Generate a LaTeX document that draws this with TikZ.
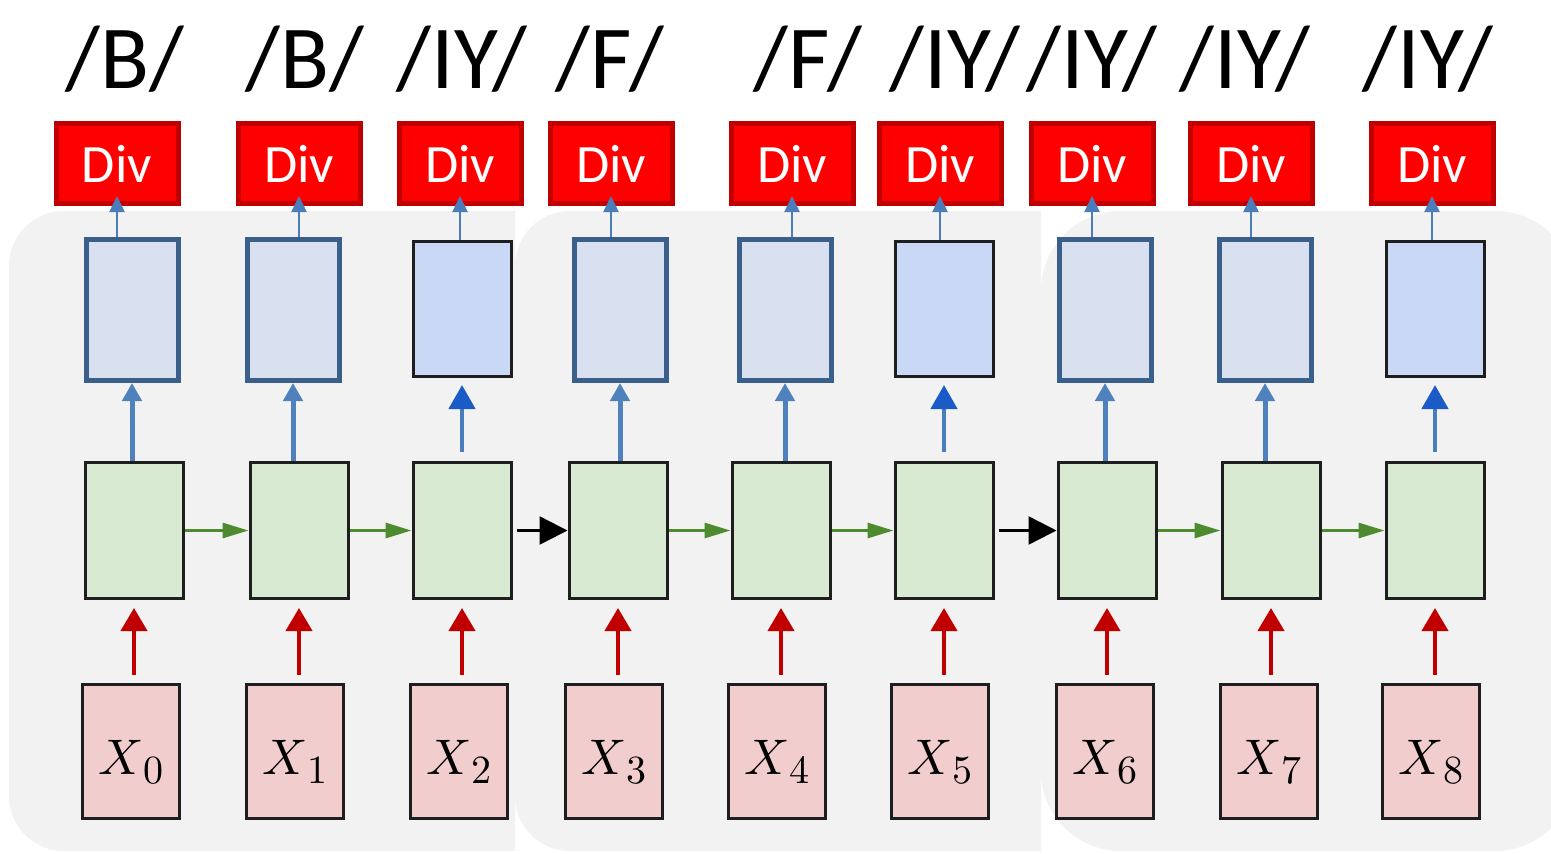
\documentclass[tikz,border=0pt]{standalone}
\usepackage{fontspec}
\usepackage{unicode-math}
\setmainfont{Carlito}
\usetikzlibrary{arrows.meta}
\definecolor{panelgray}{HTML}{F2F2F2}
\definecolor{divred}{HTML}{FF0000}
\definecolor{divborder}{HTML}{C00000}
\definecolor{bthickborder}{HTML}{3A5F8B}
\definecolor{bthickfill}{HTML}{D9E1F0}
\definecolor{bthinfill}{HTML}{C9D9F5}
\definecolor{boxborder}{HTML}{1E1E1E}
\definecolor{greenfill}{HTML}{D9EAD3}
\definecolor{pinkfill}{HTML}{F2CDCD}
\definecolor{arrowblue}{HTML}{4A7EBB}
\definecolor{arrowbluethick}{HTML}{4F81BD}
\definecolor{headblue}{HTML}{1A5BC8}
\definecolor{arrowred}{HTML}{C00000}
\definecolor{arrowgreen}{HTML}{4E8B2E}
\newcommand{\xsub}[1]{\raisebox{-23pt}[0pt][0pt]{$X$\kern1pt\raisebox{-9pt}{\fontsize{40}{40}\selectfont$#1$}}}
\begin{document}
\begin{tikzpicture}[x=1pt,y=-1pt,
  divbox/.style={draw=divborder,fill=divred,line width=5pt,minimum width=122pt,minimum height=80pt,inner sep=0pt,text=white,font=\fontsize{54}{60}\selectfont},
  phon/.style={inner sep=0pt,font=\fontsize{90}{100}\selectfont},
  bthick/.style={draw=bthickborder,fill=bthickfill,line width=5pt,minimum width=92pt,minimum height=141pt,inner sep=0pt},
  bthin/.style={draw=boxborder,fill=bthinfill,line width=3pt,minimum width=98pt,minimum height=135pt,inner sep=0pt},
  gbox/.style={draw=boxborder,fill=greenfill,line width=3pt,minimum width=98pt,minimum height=136pt,inner sep=0pt},
  pbox/.style={draw=boxborder,fill=pinkfill,line width=3pt,minimum width=97pt,minimum height=134pt,inner sep=0pt,font=\fontsize{50}{60}\selectfont},
  divarrow/.style={draw=arrowblue,line width=2.5pt,-{Triangle[width=15pt,length=16pt]},shorten >=-10pt},
  bluearrow/.style={draw=arrowbluethick,line width=5pt,-{Triangle[width=19pt,length=18pt]}},
  bluearrowb/.style={draw=arrowblue,line width=4.5pt,-{Triangle[width=26pt,length=24pt,color=headblue]},shorten <=9pt,shorten >=7pt},
  redarrow/.style={draw=arrowred,line width=4pt,-{Triangle[width=26pt,length=23pt]},shorten <=8pt,shorten >=8pt},
  greenarrow/.style={draw=arrowgreen,line width=3pt,-{Triangle[width=15pt,length=26pt]}},
  blackarrow/.style={draw=black,line width=2.5pt,-{Triangle[width=28pt,length=28pt]},shorten <=4pt}
]
\useasboundingbox (0,0) rectangle (1551,854);
\fill[white] (0,0) rectangle (1551,854);
% background panels
\begin{scope}
  \clip (0,0) rectangle (515,854);
  \fill[panelgray,rounded corners=55pt] (9,211) rectangle (700,851);
\end{scope}
\begin{scope}
  \clip (515,0) rectangle (1041,854);
  \fill[panelgray,rounded corners=55pt] (515,211) rectangle (1200,851);
\end{scope}
\begin{scope}
  \clip (1041,0) rectangle (1551,854);
  \fill[panelgray,rounded corners=80pt] (1041,211) rectangle (1575,851);
\end{scope}
% columns
\foreach \i/\dx/\lx/\lab/\gx/\px/\s in {
  1/117/125/B/134/131/0,
  2/299/305/B/299/295/1,
  3/460/462/IY/462/459/2,
  4/611/610/F/618/614/3,
  5/792/808/F/781/777/4,
  6/940/955/IY/944/940/5,
  7/1092/1092/IY/1107/1105/6,
  8/1251/1245/IY/1271/1269/7,
  9/1432/1428/IY/1435/1431/8}
{
  \node[divbox] (d\i) at (\dx,163.5) {Div};
  \node[phon,anchor=base] (l\i) at (\lx,88) {/\lab/};
  \node[gbox] (g\i) at (\gx,530.5) {};
  \node[pbox] (x\i) at (\px,751.5) {\xsub{\s}};
}
\foreach \i/\bx in {1/132,2/293,4/620,5/785,7/1105,8/1265}
  \node[bthick] (b\i) at (\bx,310) {};
\foreach \i/\bx in {3/462,6/944,9/1435}
  \node[bthin] (b\i) at (\bx,309) {};
% connectors
\foreach \i in {1,...,9} {
  \draw[divarrow] (d\i.south |- b\i.north) -- (d\i.south);
  \draw[redarrow] (g\i.south |- x\i.north) -- (g\i.south);
}
\foreach \i in {1,2,4,5,7,8}
  \draw[bluearrow] (b\i.south |- g\i.north) -- (b\i.south);
\foreach \i in {3,6,9}
  \draw[bluearrowb] (b\i.south |- g\i.north) -- (b\i.south);
\foreach \i/\j in {1/2,2/3,4/5,5/6,7/8,8/9}
  \draw[greenarrow] (g\i) -- (g\j);
\draw[blackarrow] (g3) -- (g4);
\draw[blackarrow] (g6) -- (g7);
\end{tikzpicture}
\end{document}
